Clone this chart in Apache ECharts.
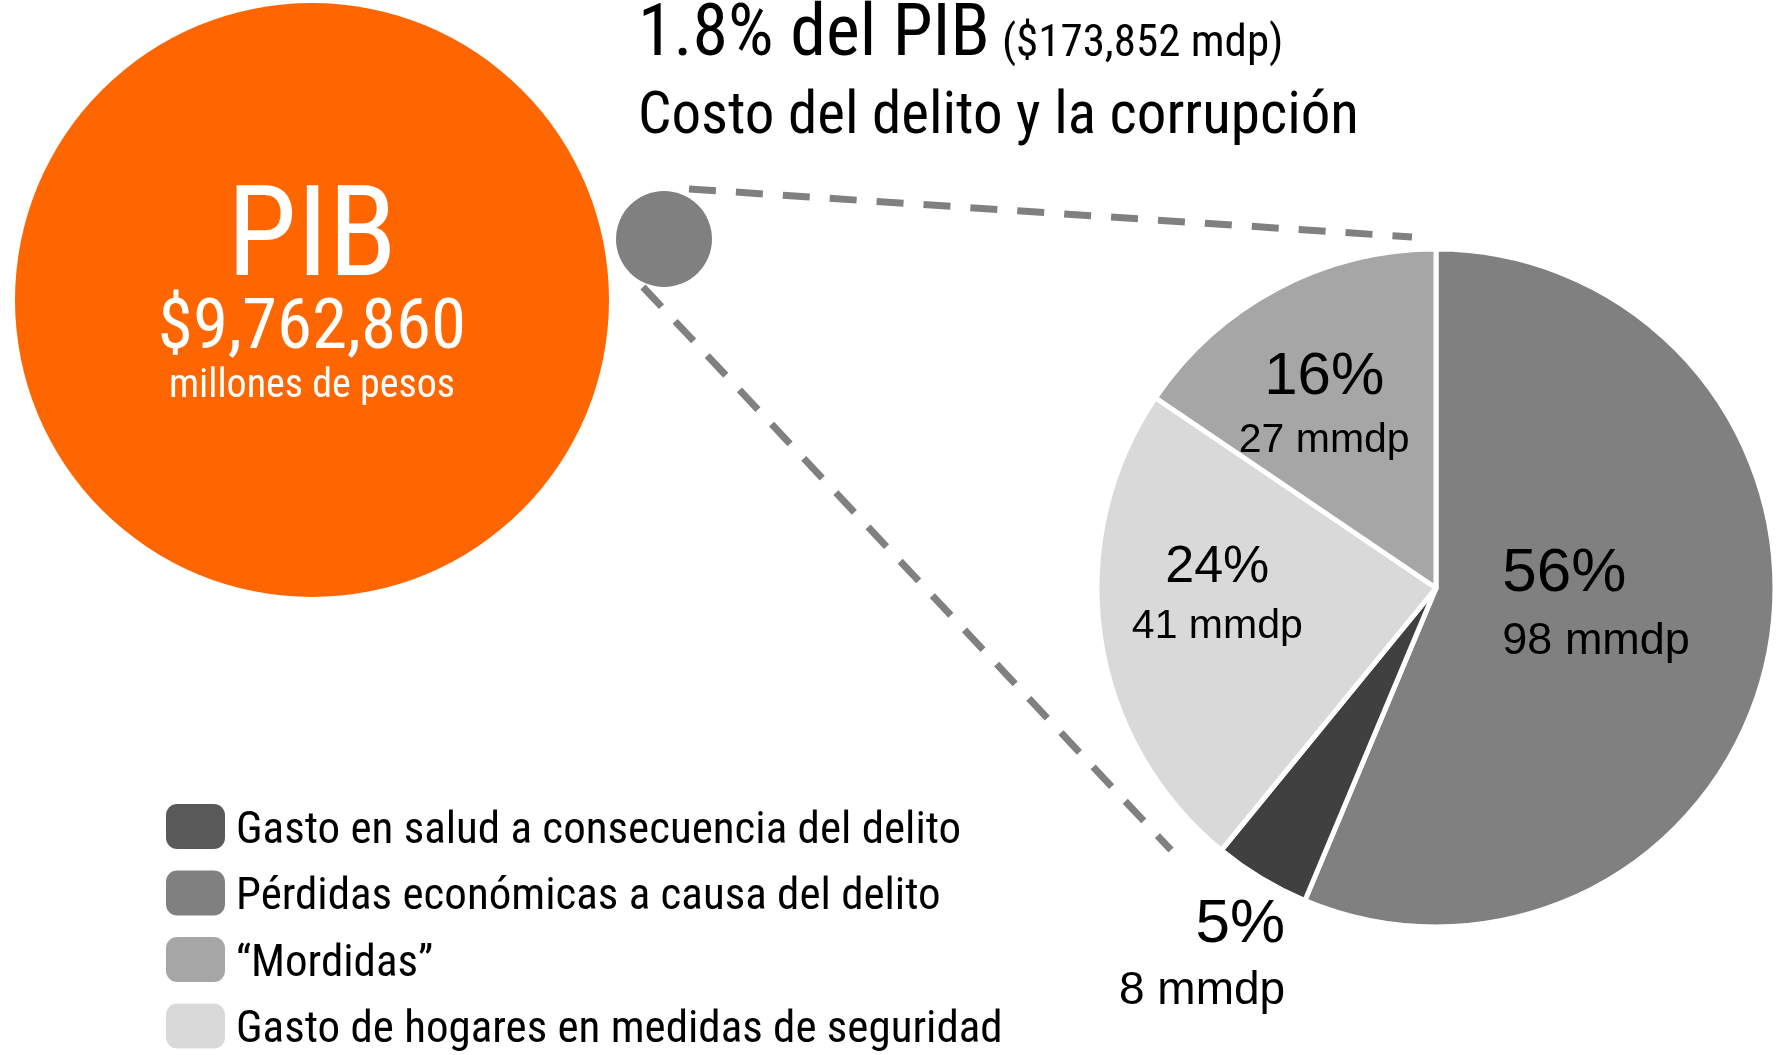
<!DOCTYPE html>
<html>
<head>
<meta charset="utf-8">
<script src="https://cdn.jsdelivr.net/npm/echarts@6/dist/echarts.min.js"></script>
<style>
html, body { margin: 0; padding: 0; background: #fff; }
#main { width: 1776px; height: 1055px; }
</style>
</head>
<body>
<div id="main"></div>
<script>
// datos (millones de pesos / miles de millones)
var pib = 9762860;
var costo = 173852;
var pctPIB = 1.8;
var pieNames = ['Pérdidas económicas a causa del delito', 'Gasto en salud a consecuencia del delito', 'Gasto de hogares en medidas de seguridad', '“Mordidas”'];
var pieValues = [98, 8, 41, 27];
var pieColors = ['#808080', '#404040', '#D9D9D9', '#A6A6A6'];
var legendNames = ['Gasto en salud a consecuencia del delito', 'Pérdidas económicas a causa del delito', '“Mordidas”', 'Gasto de hogares en medidas de seguridad'];
var legendColors = ['#595959', '#808080', '#A6A6A6', '#D9D9D9'];

var REG = '"Liberation Sans", Arial, sans-serif';

// buscar una fuente angosta instalada
function pickNarrow() {
	var ctx = document.createElement('canvas').getContext('2d');
	var t = 'Gasto en salud a consecuencia 0123456789';
	function w(f) { ctx.font = f; return ctx.measureText(t).width; }
	var fams = ['Liberation Sans Narrow', 'Arial Narrow', 'Roboto Condensed', 'Noto Sans Condensed', 'DejaVu Sans Condensed', 'Open Sans Condensed'];
	for (var i = 0; i < fams.length; i++) {
		if (w('40px "' + fams[i] + '", monospace') != w('40px monospace') ||
			w('40px "' + fams[i] + '", serif') != w('40px serif')) {
			return { family: '"' + fams[i] + '", sans-serif', weight: 'normal' };
		}
	}
	var st = ['Noto Sans', 'Roboto', 'Open Sans', 'DejaVu Sans'];
	for (var i = 0; i < st.length; i++) {
		var a = w('40px "' + st[i] + '"');
		var b = w('normal condensed 40px "' + st[i] + '"');
		if (b < a * 0.95) {
			return { family: '"' + st[i] + '", sans-serif', weight: 'condensed' };
		}
	}
	return { family: REG, weight: 'normal' };
}
var nf = pickNarrow();
var NARROW = nf.family;
var NW = nf.weight;

function fmtMiles(n) {
	return String(n).replace(/\B(?=(\d{3})+(?!\d))/g, ',');
}

// estilo de cada etiqueta del pastel (tamaños y ajuste de posición)
var labelStyle = [
	{ offset: [-9, -16], p: 62, pl: 72, v: 45, vl: 64, align: 'left' },
	{ offset: [-145, 220], p: 62, pl: 72, v: 46, vl: 61, align: 'right' },
	{ offset: [-48, -17], p: 52, pl: 62, v: 41, vl: 56, align: 'center' },
	{ offset: [-31, -29], p: 60, pl: 68, v: 41, vl: 59, align: 'center' }
];

var total = 0;
for (var i = 0; i < pieValues.length; i++) total += pieValues[i];

var pieData = [];
for (var i = 0; i < pieValues.length; i++) {
	var s = labelStyle[i];
	pieData.push({
		name: pieNames[i],
		value: pieValues[i],
		itemStyle: { color: pieColors[i] },
		label: {
			offset: s.offset,
			rich: {
				p: { fontFamily: REG, fontSize: s.p, lineHeight: s.pl, color: '#000', align: s.align },
				v: { fontFamily: REG, fontSize: s.v, lineHeight: s.vl, color: '#000', align: s.align }
			}
		}
	});
}

var legendData = [];
for (var i = 0; i < legendNames.length; i++) {
	legendData.push({ name: legendNames[i], itemStyle: { color: legendColors[i], borderWidth: 0 } });
}

var chart = echarts.init(document.getElementById('main'), null, { renderer: 'canvas' });

var option = {
	backgroundColor: '#fff',
	animation: false,
	title: [
		{
			left: 638, top: 7, padding: 0,
			text: '{a|' + pctPIB + '% del PIB} {b|($' + fmtMiles(costo) + ' mdp)}',
			textStyle: {
				rich: {
					a: { fontFamily: NARROW, fontWeight: NW, fontSize: 72, lineHeight: 60, color: '#000' },
					b: { fontFamily: NARROW, fontWeight: NW, fontSize: 45, lineHeight: 47, color: '#000', verticalAlign: 'bottom', padding: [0, 0, 0, 7] }
				}
			}
		},
		{
			left: 638, top: 89, padding: 0,
			text: 'Costo del delito y la corrupción',
			textStyle: { fontFamily: NARROW, fontWeight: NW, fontSize: 59, lineHeight: 59, color: '#000' }
		}
	],
	legend: {
		orient: 'vertical',
		left: 166,
		top: 799,
		height: 300,
		padding: 0,
		itemWidth: 59,
		itemHeight: 45,
		itemGap: 11.5,
		icon: 'roundRect',
		selectedMode: false,
		data: legendData,
		formatter: function(name) {
			return '{t|' + name + '}';
		},
		textStyle: {
			color: '#000',
			rich: {
				t: { fontFamily: NARROW, fontWeight: NW, fontSize: 45, lineHeight: 45, color: '#000', padding: [10, 0, 0, 6] }
			}
		}
	},
	graphic: [
		{
			type: 'line', z: 1, silent: true,
			shape: { x1: 689, y1: 189, x2: 1412, y2: 237 },
			style: { stroke: '#808080', lineWidth: 7, lineDash: [27, 20] }
		},
		{
			type: 'line', z: 1, silent: true,
			shape: { x1: 643, y1: 287, x2: 1171, y2: 850 },
			style: { stroke: '#808080', lineWidth: 7, lineDash: [27, 20] }
		}
	],
	series: [
		{
			// PIB
			type: 'pie',
			silent: true,
			center: [312, 300],
			radius: 297,
			color: ['#FF6600'],
			label: {
				show: true,
				position: 'center',
				offset: [0, -1],
				formatter: function() {
					return '{a|PIB}\n{b|$' + fmtMiles(pib) + '}\n{c|millones de pesos}';
				},
				rich: {
					a: { fontFamily: NARROW, fontWeight: NW, fontSize: 126, lineHeight: 103, color: '#fff' },
					b: { fontFamily: NARROW, fontWeight: NW, fontSize: 71, lineHeight: 72, color: '#fff' },
					c: { fontFamily: NARROW, fontWeight: NW, fontSize: 40, lineHeight: 40, color: '#fff' }
				}
			},
			labelLine: { show: false },
			data: [{ name: 'PIB', value: pib }]
		},
		{
			// costo del delito (1.8%)
			type: 'pie',
			silent: true,
			center: [664, 239],
			radius: 48,
			color: ['#808080'],
			label: { show: false },
			labelLine: { show: false },
			data: [{ name: 'Costo', value: costo }]
		},
		{
			type: 'pie',
			silent: true,
			center: [1436, 588],
			radius: 339,
			startAngle: 90,
			clockwise: true,
			avoidLabelOverlap: false,
			itemStyle: { borderColor: '#fff', borderWidth: 5 },
			label: {
				show: true,
				position: 'inside',
				color: '#000',
				textBorderWidth: 0,
				formatter: function(p) {
					return '{p|' + Math.round(p.value / total * 100) + '%}\n{v|' + p.value + ' mmdp}';
				}
			},
			labelLine: { show: false },
			data: pieData
		}
	]
};
chart.setOption(option);
</script>
</body>
</html>
